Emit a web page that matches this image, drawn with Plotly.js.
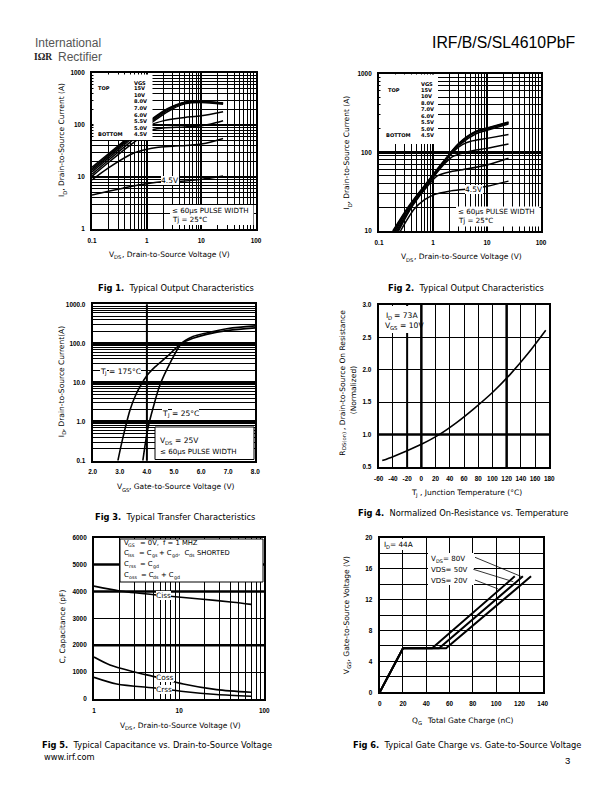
<!DOCTYPE html>
<html><head><meta charset="utf-8">
<script src="https://cdn.plot.ly/plotly-3.0.1.min.js"></script>
<style>html,body{margin:0;padding:0;background:#fff}#chart{width:612px;height:792px}</style>
</head><body><div id="chart"></div>
<script>
// ================= DATA =================
// Fig 1 : Typical Output Characteristics (Tj = 25 C)
const f1_vgsLabels = ['15V','10V','8.0V','7.0V','6.0V','5.5V','5.0V','4.5V'];
const f1_15V_vds = [0.1,0.2,0.5,1,2,3,5,10,25];
const f1_15V_id  = [15.5,28,62,110,185,230,275,285,265];
const f1_10V_vds = [0.1,0.2,0.5,1,2,3,5,10,25];
const f1_10V_id  = [14.5,26.5,59,105,178,225,272,283,262];
const f1_8V_vds  = [0.1,0.2,0.5,1,2,3,5,10,25];
const f1_8V_id   = [13.5,25,56,100,170,218,268,280,258];
const f1_7V_vds  = [0.1,0.2,0.5,1,2,3,5,10,25];
const f1_7V_id   = [12.5,23,52,94,158,205,255,270,252];
const f1_6V_vds  = [0.1,0.2,0.5,1,1.32,2,3,5,10,25];
const f1_6V_id   = [11.3,21,47,86,105,120,130,140,150,180];
const f1_55V_vds = [0.1,0.2,0.5,1,1.32,2,5,10,15,25];
const f1_55V_id  = [10.3,19,41,70,82,88,92,97,105,121];
const f1_5V_vds  = [0.1,0.2,0.57,1,1.52,3,6.2,10,15,25];
const f1_5V_id   = [8.8,15,28.6,34,37,39,41,43,47,55];
const f1_45V_vds = [0.1,0.2,0.37,0.7,1.88,5,10,25];
const f1_45V_id  = [4.5,5.3,6.1,7.0,8.1,8.4,9.0,10.4];

// Fig 2 : Typical Output Characteristics (second set)
const f2_15V_vds = [0.18,0.36,0.74,1.5,3,6.25,10,25];
const f2_15V_id  = [10,21,40,74,130,185,203,242];
const f2_10V_vds = [0.185,0.37,0.76,1.5,3,6.25,10,25];
const f2_10V_id  = [10,21,40,73,128,182,200,238];
const f2_8V_vds  = [0.19,0.375,0.77,1.5,3,6.25,10,25];
const f2_8V_id   = [10,21,40,72,126,180,198,235];
const f2_7V_vds  = [0.2,0.38,0.78,1.5,3,6.25,10,25];
const f2_7V_id   = [10,21,40,71,122,172,190,228];
const f2_6V_vds  = [0.21,0.4,0.8,1.5,2.5,3.5,5,10,25];
const f2_6V_id   = [10,21,40,70,105,125,138,150,168];
const f2_55V_vds = [0.22,0.41,0.82,1.5,2.3,4,6.25,10,25];
const f2_55V_id  = [10,21,40,67,88,100,107,112,127];
const f2_5V_vds  = [0.23,0.42,0.84,1.2,2,3.5,10,25];
const f2_5V_id   = [10,21,39,50,56,60,69,84];
const f2_45V_vds = [0.25,0.45,0.7,1.06,2,4,10,25];
const f2_45V_id  = [10,19,25,29,32,34,37,43];

// Fig 3 : Typical Transfer Characteristics
const f3_175_vgs = [2.93,3.1,3.38,3.6,3.99,4.3,4.73,5.0,5.28,5.7,6.2,7.0,8.0];
const f3_175_id  = [0.1,0.35,2.0,5,14.7,25,45,68,100,135,170,215,250];
const f3_25_vgs  = [3.85,3.95,4.05,4.24,4.48,4.85,5.28,5.7,6.2,7.0,8.0];
const f3_25_id   = [0.1,0.3,0.74,2.4,8.6,31,100,150,185,240,280];

// Fig 4 : Normalized On-Resistance vs Temperature
const f4_tj   = [-55,-40,-20,0,25,50,75,100,125,150,175];
const f4_rdson= [0.60,0.66,0.75,0.85,1.00,1.19,1.41,1.65,1.93,2.25,2.61];

// Fig 5 : Capacitance vs VDS
const f5_ciss_vds = [1,2,5.45,17.6,43,70];
const f5_ciss     = [4200,4020,3870,3720,3600,3520];
const f5_coss_vds = [1,1.54,2.9,5.5,11.2,27.5,70];
const f5_coss     = [1560,1264,1017,810,560,350,250];
const f5_crss_vds = [1,1.85,5.5,11.2,27.5,70];
const f5_crss     = [806,558,400,280,170,100];

// Fig 6 : Gate charge
const f6_20V_qg = [0,20,45,116];  const f6_20V_vgs = [0,5.7,5.7,15];
const f6_50V_qg = [0,20,51,123];  const f6_50V_vgs = [0,5.7,5.7,15];
const f6_80V_qg = [0,20,57,130];  const f6_80V_vgs = [0,5.7,5.7,15];

// Tick labels
const f1_xticks = [0.1,1,10,100];   const f1_xtext = ['0.1','1','10','100'];
const f1_yticks = [1,10,100,1000];  const f1_ytext = ['1','10','100','1000'];
const f2_yticks = [10,100,1000];    const f2_ytext = ['10','100','1000'];
const f3_xticks = [2,3,4,5,6,7,8];  const f3_xtext = ['2.0','3.0','4.0','5.0','6.0','7.0','8.0'];
const f3_yticks = [0.1,1,10,100,1000]; const f3_ytext = ['0.1','1.0','10.0','100.0','1000.0'];
const f4_xticks = [-60,-40,-20,0,20,40,60,80,100,120,140,160,180];
const f4_xtext  = ['-60','-40','-20','0','20','40','60','80','100','120','140','160','180'];
const f5_xticks = [1,10,100];       const f5_xtext = ['1','10','100'];

// ================= LAYOUT HELPERS =================
const FAM = 'Liberation Sans, Arial, Helvetica, sans-serif';
const FT  = 'DejaVu Sans, Verdana, sans-serif';
const W = 612, H = 792;
const PX = x => x / W, PY = y => 1 - y / H;
const DX = (a, b) => [a / W, b / W];
const DY = (t, b) => [1 - b / H, 1 - t / H];
const TF = {family: FAM, size: 6.4, color: '#000', weight: 'bold'};

function minorLog(d0, d1){ const v=[]; for(let d=d0; d<d1; d++) for(let k=2;k<10;k++) v.push(k*Math.pow(10,d)); return v; }

function base(domain, anchor){
  return {domain, anchor, showline:true, mirror:true, linecolor:'#000', linewidth:2,
    ticks:'', tickfont:TF, ticklabelstandoff:4, zeroline:false, fixedrange:true,
    gridcolor:'#000'};
}
function logAx(domain, anchor, range, tv, tt, majorW, minorGrid){
  const a = base(domain, anchor);
  Object.assign(a, {type:'log', range, tickmode:'array', tickvals:tv, ticktext:tt,
    showgrid:true, gridwidth:majorW});
  if (minorGrid) a.minor = {tickmode:'array', tickvals:minorLog(range[0],range[1]),
    showgrid:true, gridcolor:'#000', gridwidth:1, ticks:''};
  return a;
}
function linAx(domain, anchor, range, opts){
  const a = base(domain, anchor);
  Object.assign(a, {type:'linear', range}, opts);
  return a;
}

function tr(x, y, n, w, shape){
  const s = n === 1 ? '' : String(n);
  return {type:'scatter', mode:'lines', x, y, xaxis:'x'+s, yaxis:'y'+s,
    line:{color:'#000', width:w, shape: shape || 'spline', smoothing:0.8},
    hoverinfo:'skip', showlegend:false};
}

const data = [
  tr(f1_15V_vds,f1_15V_id,1,1.5), tr(f1_10V_vds,f1_10V_id,1,1.5), tr(f1_8V_vds,f1_8V_id,1,1.5),
  tr(f1_7V_vds,f1_7V_id,1,1.5), tr(f1_6V_vds,f1_6V_id,1,1.5), tr(f1_55V_vds,f1_55V_id,1,1.5),
  tr(f1_5V_vds,f1_5V_id,1,1.5), tr(f1_45V_vds,f1_45V_id,1,1.5),
  tr(f2_15V_vds,f2_15V_id,2,1.5), tr(f2_10V_vds,f2_10V_id,2,1.5), tr(f2_8V_vds,f2_8V_id,2,1.5),
  tr(f2_7V_vds,f2_7V_id,2,1.5), tr(f2_6V_vds,f2_6V_id,2,1.5), tr(f2_55V_vds,f2_55V_id,2,1.5),
  tr(f2_5V_vds,f2_5V_id,2,1.5), tr(f2_45V_vds,f2_45V_id,2,1.5),
  tr(f3_175_vgs,f3_175_id,3,1.6), tr(f3_25_vgs,f3_25_id,3,1.6),
  tr(f4_tj,f4_rdson,4,1.6),
  tr(f5_ciss_vds,f5_ciss,5,1.6), tr(f5_coss_vds,f5_coss,5,1.6), tr(f5_crss_vds,f5_crss,5,1.6),
  tr(f6_20V_qg,f6_20V_vgs,6,2,'linear'), tr(f6_50V_qg,f6_50V_vgs,6,2,'linear'), tr(f6_80V_qg,f6_80V_vgs,6,2,'linear')
];

// Emphasised grid lines (style)
const f3_boldX = [4];
const f4_boldX = [-20, 0, 120];
const f4_boldY = [1.0];
const f5_boldY = [2000, 4000, 5000];

const shapes = [];
f3_boldX.forEach(v => shapes.push({type:'line', xref:'x3', yref:'y3 domain', x0:v, x1:v, y0:0, y1:1, line:{color:'#000', width:2}, layer:'below'}));
f4_boldX.forEach(v => shapes.push({type:'line', xref:'x4', yref:'y4 domain', x0:v, x1:v, y0:0, y1:1, line:{color:'#000', width: v === -20 ? 2 : 2.5}, layer:'below'}));
f4_boldY.forEach(v => shapes.push({type:'line', xref:'x4 domain', yref:'y4', x0:0, x1:1, y0:v, y1:v, line:{color:'#000', width:2.5}, layer:'below'}));
f5_boldY.forEach(v => shapes.push({type:'line', xref:'x5 domain', yref:'y5', x0:0, x1:1, y0:v, y1:v, line:{color:'#000', width:2.5}, layer:'below'}));

function box(x0, y0, x1, y1, lw){
  shapes.push({type:'rect', xref:'paper', yref:'paper', x0:PX(x0), x1:PX(x1), y0:PY(y1), y1:PY(y0),
    fillcolor:'#fff', line:{color:'#000', width: lw || 0}, layer:'above'});
}
function seg(x0, y0, x1, y1){
  shapes.push({type:'line', xref:'paper', yref:'paper', x0:PX(x0), x1:PX(x1), y0:PY(y0), y1:PY(y1),
    line:{color:'#000', width:0.8}, layer:'above'});
}
box(93.5, 74.5, 152.5, 140);     // fig1 legend
box(170, 205, 253.5, 225);       // fig1 pulse note
box(380.5, 74.5, 438, 144);      // fig2 legend
box(456, 206.5, 539.5, 226.5);   // fig2 pulse note
box(155, 427, 254, 459.5, 1);    // fig3 note
box(380, 306, 419.5, 333);       // fig4 note
box(120, 539, 263, 582, 1);      // fig5 legend
box(382, 539, 416, 550);         // fig6 ID
box(428, 553, 474, 585);         // fig6 VDS labels
seg(475, 557.3, 521.7, 576.7);
seg(473.3, 569.3, 513.3, 581.7);
seg(475, 580, 498.3, 589);

// ----- text helpers (subscripts laid out as separate small texts) -----
const cv = document.createElement('canvas').getContext('2d');
function tw(t, size, fam){ cv.font = size + 'px ' + fam; return cv.measureText(t).width; }
const annotations = [];
function mk(text, x, y, xa, size, o, angle){
  const a = {text, xref:'paper', yref:'paper', x:PX(x), y:PY(y), xanchor:xa, yanchor:'middle',
    showarrow:false, borderpad:0, borderwidth:0, textangle:angle || 0,
    font:{family:o.fam || FT, size, color:o.color || '#000', weight:o.weight || 'normal'}};
  if (o.bg) a.bgcolor = o.bg;
  return a;
}
function A(text, x, y, o){
  o = o || {};
  const size = o.size || 7, fam = o.fam || FT, rot = o.rot ? -90 : 0;
  if (text.indexOf('<sub>') < 0) { annotations.push(mk(text, x, y, o.xa || 'left', size, o, rot)); return; }
  const pieces = text.split(/<sub>|<\/sub>/);
  const segs = pieces.map((t, i) => ({t, sub: i % 2 === 1, s: i % 2 === 1 ? size * 0.7 : size}))
                     .filter(p => p.t.length);
  segs.forEach(p => {
    p.w = tw(p.t, p.s, fam);
    const lead = p.t.length - p.t.replace(/^ +/, '').length;
    p.lead = lead ? tw(p.t.slice(0, lead), p.s, fam) : 0;
    p.txt = p.t.trim();
    p.tw = p.txt ? tw(p.txt, p.s, fam) : 0;
  });
  const total = segs.reduce((a, p) => a + p.w, 0);
  const xa = o.xa || 'left';
  let off = xa === 'left' ? 0 : (xa === 'center' ? -total / 2 : -total);
  segs.forEach(p => {
    if (p.txt) {
      const c = off + p.lead + p.tw / 2;
      const d = p.sub ? 0.38 * size : 0;
      if (!rot) annotations.push(mk(p.txt, x + c, y + d, 'center', p.s, o, 0));
      else annotations.push(mk(p.txt, x + d, y - c, 'center', p.s, o, -90));
    }
    off += p.w;
  });
}

// Header / footer
A('International', 35, 43, {size:12, fam:FAM, color:'#555'});
A('<b>IΩR</b>', 34, 56.5, {size:9.5, fam:'Liberation Serif, serif', color:'#222'});
A('Rectifier', 58, 56.5, {size:12, fam:FAM, color:'#555'});
A('IRF/B/S/SL4610PbF', 575, 43, {xa:'right', size:15.8, fam:FAM});
A('www.irf.com', 44, 757, {size:8.3});
A('3', 570, 760, {xa:'right', size:9.5, fam:FAM});

// Fig1 legend
const LS = 5.1;
A('<b>VGS</b>', 134.3, 82.7, {size:LS});
f1_vgsLabels.forEach((t, i) => A('<b>'+t+'</b>', 134.3, 88.3 + i*6.57, {size:LS}));
A('<b>TOP</b>', 98.3, 88.3, {size:LS});
A('<b>BOTTOM</b>', 97.5, 134.3, {size:LS});
A('4.5V', 170, 180.5, {xa:'center', size:7.5, bg:'#fff'});
A('≤ 60µs PULSE WIDTH', 171.5, 210, {size:7.1});
A('Tj = 25°C', 171.5, 219.5, {size:7.1});
// Fig2 legend
A('<b>VGS</b>', 421, 84, {size:LS});
f1_vgsLabels.forEach((t, i) => A('<b>'+t+'</b>', 421, 90 + i*6.47, {size:LS}));
A('<b>TOP</b>', 387.7, 90, {size:LS});
A('<b>BOTTOM</b>', 385.5, 135.3, {size:LS});
A('4.5V', 474, 189, {xa:'center', size:7.5, bg:'#fff'});
A('≤ 60µs PULSE WIDTH', 457.5, 211.5, {size:7.1});
A('Tj = 25°C', 457.5, 221, {size:7.1});
// Fig3
A('T<sub>J</sub> = 175°C', 100.5, 371, {size:7.5, bg:'#fff'});
A('T<sub>J</sub> = 25°C', 163, 413, {size:7.5, bg:'#fff'});
A('V<sub>DS</sub> = 25V', 160, 440.5, {size:7.5});
A('≤ 60µs PULSE WIDTH', 160, 451.5, {size:7.1});
// Fig4
A('I<sub>D</sub> = 73A', 385.5, 315, {size:7.6});
A('V<sub>GS</sub> = 10V', 385.5, 325.5, {size:7.6});
// Fig5
const BS = 6.8;
A('V<sub>GS</sub>  = 0V,', 124, 542.5, {size:BS});
A('f = 1 MHZ', 162.5, 542.5, {size:BS});
A('C<sub>iss</sub>  = C<sub>gs</sub> + C<sub>gd</sub>,  C<sub>ds</sub> SHORTED', 124, 552.5, {size:BS});
A('C<sub>rss</sub>  = C<sub>gd</sub>', 124, 563.5, {size:BS});
A('C<sub>oss</sub>  = C<sub>ds</sub> + C<sub>gd</sub>', 124, 574.5, {size:BS});
A('Ciss', 163, 595, {xa:'center', size:7.4, bg:'#fff'});
A('Coss', 164.5, 677.5, {xa:'center', size:7.4, bg:'#fff'});
A('Crss', 164, 689, {xa:'center', size:7.4, bg:'#fff'});
// Fig6
A('I<sub>D</sub>= 44A', 384, 544, {size:7.3});
A('V<sub>DS</sub>= 80V', 431, 558, {size:7.1});
A('VDS= 50V', 431, 569.5, {size:7.0});
A('VDS= 20V', 431, 580.5, {size:7.0});

// Axis titles
const TS = 7.5;
A('I<sub>D</sub>, Drain-to-Source Current (A)', 62, 140, {xa:'center', size:TS, rot:true});
A('V<sub>DS</sub>, Drain-to-Source Voltage (V)', 169.5, 254.5, {xa:'center', size:TS});
A('I<sub>D</sub>, Drain-to-Source Current (A)', 346.7, 153, {xa:'center', size:TS, rot:true});
A('V<sub>DS</sub>, Drain-to-Source Voltage (V)', 461.7, 256.7, {xa:'center', size:TS});
A('I<sub>D</sub>, Drain-to-Source Current(A)', 61.7, 381.7, {xa:'center', size:TS, rot:true});
A('V<sub>GS</sub>, Gate-to-Source Voltage (V)', 176, 486.7, {xa:'center', size:TS});
A('R<sub>DS(on)</sub> , Drain-to-Source On Resistance', 341.7, 383, {xa:'center', size:TS, rot:true});
A('(Normalized)', 353.3, 390, {xa:'center', size:TS, rot:true});
A('T<sub>J</sub> , Junction Temperature (°C)', 466.7, 492.3, {xa:'center', size:TS});
A('C, Capacitance (pF)', 62.7, 626.7, {xa:'center', size:TS, rot:true});
A('V<sub>DS</sub>, Drain-to-Source Voltage (V)', 180.8, 725, {xa:'center', size:TS});
A('V<sub>GS</sub>, Gate-to-Source Voltage (V)', 346.7, 615, {xa:'center', size:TS, rot:true});
A('Q<sub>G</sub>  Total Gate Charge (nC)', 462.5, 720, {xa:'center', size:TS});

// Captions
const CS = 8.3;
A('<b>Fig 1.</b>  Typical Output Characteristics', 176.5, 288, {xa:'center', size:CS});
A('<b>Fig 2.</b>  Typical Output Characteristics', 466, 288, {xa:'center', size:CS});
A('<b>Fig 3.</b>  Typical Transfer Characteristics', 174.5, 516.5, {xa:'center', size:CS});
A('<b>Fig 4.</b>  Normalized On-Resistance vs. Temperature', 462.5, 513, {xa:'center', size:CS});
A('<b>Fig 5.</b>  Typical Capacitance vs. Drain-to-Source Voltage', 157.5, 745, {xa:'center', size:CS});
A('<b>Fig 6.</b>  Typical Gate Charge vs. Gate-to-Source Voltage', 467, 745, {xa:'center', size:CS});

const layout = {
  width: W, height: H, margin:{l:0,r:0,t:0,b:0,pad:0},
  paper_bgcolor:'#fff', plot_bgcolor:'#fff', showlegend:false,
  font:{family:FAM, color:'#000'},
  xaxis:  logAx(DX(92,256), 'y', [-1,2], f1_xticks, f1_xtext, 2, true),
  yaxis:  logAx(DY(73,229), 'x', [0,3], f1_yticks, f1_ytext, 2, true),
  xaxis2: logAx(DX(379,541), 'y2', [-1,2], f1_xticks, f1_xtext, 2, true),
  yaxis2: logAx(DY(73.5,231), 'x2', [1,3], f2_yticks, f2_ytext, 3, true),
  xaxis3: linAx(DX(92.7,255.3), 'y3', [2,8], {tickmode:'array', tickvals:f3_xticks, ticktext:f3_xtext, showgrid:false}),
  yaxis3: logAx(DY(304.3,460.7), 'x3', [-1,3], f3_yticks, f3_ytext, 3, true),
  xaxis4: linAx(DX(378.7,549.3), 'y4', [-60,180], {tickmode:'array', tickvals:f4_xticks, ticktext:f4_xtext, showgrid:true, gridwidth:1}),
  yaxis4: linAx(DY(305,467), 'x4', [0.5,3.0], {tick0:0.5, dtick:0.5, tickformat:'.1f', showgrid:true, gridwidth:1}),
  xaxis5: logAx(DX(94,264.3), 'y5', [0,2], f5_xticks, f5_xtext, 1, true),
  yaxis5: linAx(DY(537.7,699), 'x5', [0,6000], {tick0:0, dtick:1000, showgrid:true, gridwidth:1}),
  xaxis6: linAx(DX(379.7,542.7), 'y6', [0,140], {tick0:0, dtick:20, showgrid:true, gridwidth:1}),
  yaxis6: linAx(DY(537.7,692.3), 'x6', [0,20], {tick0:0, dtick:4, showgrid:true, gridwidth:1,
            minor:{dtick:2, showgrid:true, gridcolor:'#000', gridwidth:1, ticks:''}}),
  shapes, annotations
};

Plotly.newPlot('chart', data, layout, {staticPlot:true, displayModeBar:false});
</script>
</body></html>
